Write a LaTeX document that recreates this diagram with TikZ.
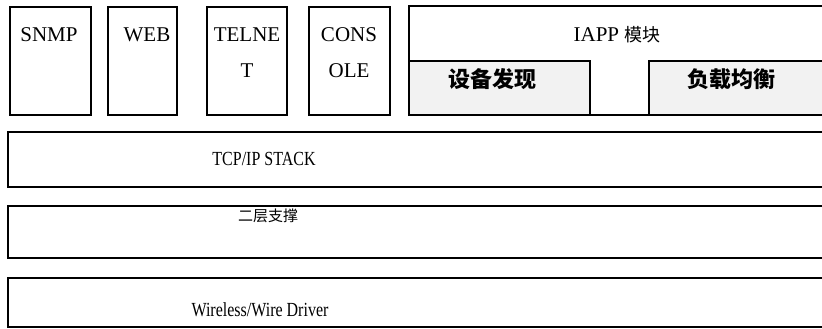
\documentclass[tikz,border=0pt]{standalone}
\usepackage{fontspec}
\setmainfont{Liberation Serif}
\newfontfamily\condfont[FakeStretch=0.8]{Liberation Serif}
\newfontfamily\cjk{Noto Sans CJK SC}
\begin{document}
\begin{tikzpicture}[x=1pt,y=-1pt,
  box/.style={draw=black,line width=2.2pt,anchor=north west,inner sep=0pt},
  subbox/.style={box,fill=black!5},
  toptext/.style={inner sep=0pt,font=\fontsize{21}{21}\selectfont},
  lowtext/.style={inner sep=0pt,font=\fontsize{20}{20}\condfont},
  cjkbold/.style={inner sep=0pt,font=\fontsize{22}{22}\cjk\bfseries},
]
\useasboundingbox (0,0) rectangle (822,329);
\clip (0,0) rectangle (822,329);
% top row
\node[box,minimum width=81pt,minimum height=108pt] (snmp) at (9,6) {};
\node[box,minimum width=69pt,minimum height=108pt] (web) at (107,6) {};
\node[box,minimum width=80pt,minimum height=108pt] (telnet) at (206,6) {};
\node[box,minimum width=81pt,minimum height=108pt] (console) at (308,6) {};
\node[box,minimum width=430pt,minimum height=109pt] (iapp) at (408,5) {};
\node[subbox,minimum width=181pt,minimum height=54pt] (disc) at (408,60) {};
\node[subbox,minimum width=190pt,minimum height=54pt] (lb) at (648,60) {};
\node[toptext] (tsnmp) at (49,35) {SNMP};
\node[toptext] (tweb) at (147,35) {WEB};
\node[toptext] (ttel1) at (247,35) {TELNE};
\node[toptext] (ttel2) at (247,71) {T};
\node[toptext] (tcon1) at (349,35) {CONS};
\node[toptext] (tcon2) at (349,71) {OLE};
\node[inner sep=0pt] (tiapp) at (617,35) {\fontsize{21}{21}\selectfont IAPP {\fontsize{18}{18}\cjk 模块}};
\node[cjkbold] (tdisc) at (492,79) {设备发现};
\node[cjkbold] (tlb) at (731,79) {负载均衡};
% lower layers
\node[box,minimum width=840pt,minimum height=55pt] (tcp) at (7,131) {};
\node[box,minimum width=840pt,minimum height=52pt] (l2) at (7,205) {};
\node[box,minimum width=840pt,minimum height=49pt] (drv) at (7,277) {};
\node[lowtext] (ttcp) at (264,159) {TCP/IP STACK};
\node[inner sep=0pt,font=\fontsize{15}{15}\cjk] (tl2) at (268,216) {二层支撑};
\node[lowtext] (tdrv) at (260,310) {Wireless/Wire Driver};
\end{tikzpicture}
\end{document}
